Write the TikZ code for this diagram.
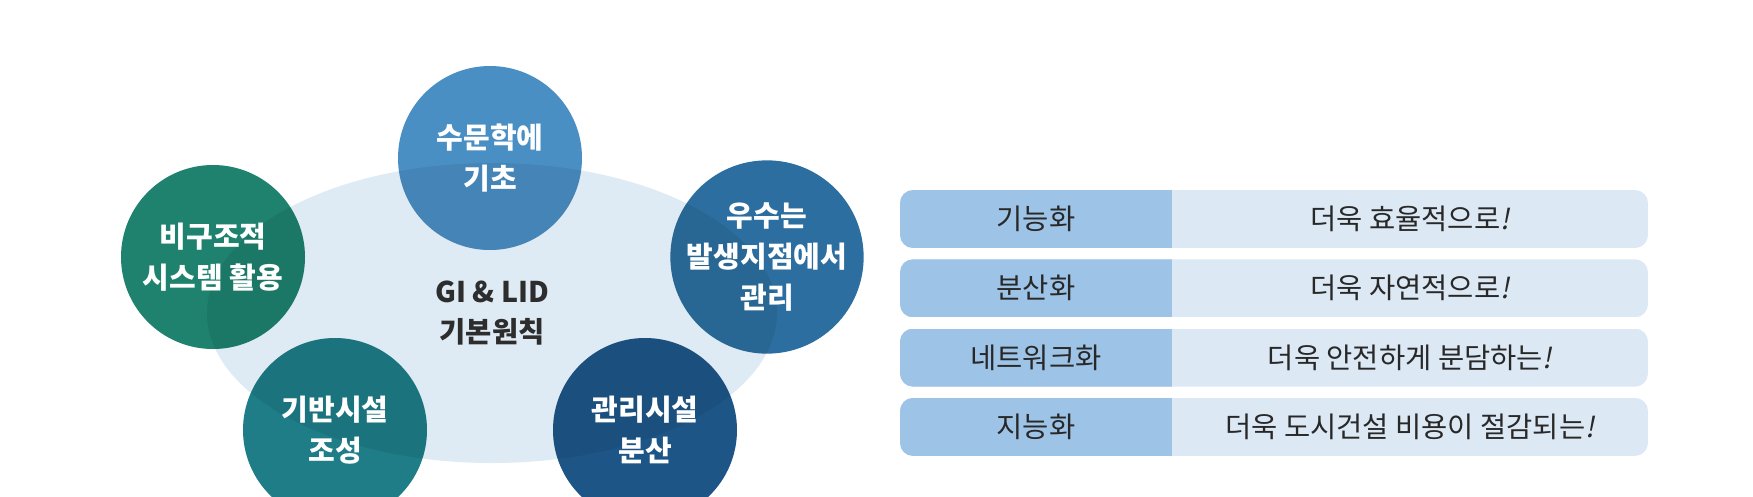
\documentclass[tikz,border=0pt]{standalone}
\usepackage{fontspec}
\setmainfont{Noto Sans CJK KR}
\newfontfamily\krslant[FakeSlant=0.2]{Noto Sans CJK KR}
\usepackage{tikz}
\usetikzlibrary{shapes.geometric}
\definecolor{corefill}{RGB}{222,234,244}
\definecolor{coretext}{RGB}{45,45,45}
\definecolor{topblue}{RGB}{74,143,196}
\definecolor{leftgreen}{RGB}{30,130,110}
\definecolor{rightblue}{RGB}{44,110,160}
\definecolor{lowteal}{RGB}{30,125,135}
\definecolor{lownavy}{RGB}{30,85,135}
\definecolor{keyfill}{RGB}{157,196,230}
\definecolor{valfill}{RGB}{220,233,244}
\definecolor{rowtext}{RGB}{40,40,40}

\begin{document}
\begin{tikzpicture}[x=1pt, y=-1pt,
  bubble/.style={circle, minimum size=184pt, inner sep=0pt, text=white, align=center,
    font=\fontsize{29}{41}\selectfont\bfseries,
    path picture={\fill[black, opacity=0.07] (core.center) ellipse [x radius=285pt, y radius=150pt];}},
  cell/.style={text=rowtext, font=\fontsize{28.5}{30}\selectfont, inner sep=0pt}]

  % --- Riquadro ---
  \path[use as bounding box] (0,0) rectangle (1753,496);
  \clip (0,0) rectangle (1753,496);

  % --- Ellisse di fondo ---
  \node[ellipse, fill=corefill, minimum width=570pt, minimum height=300pt, inner sep=0pt,
    align=center, text=coretext, font=\fontsize{28.5}{40}\selectfont\bfseries]
    (core) at (492,313) {GI \& LID\\기본원칙};

  % --- Cerchi ---
  \node[bubble, fill=topblue] (hydro) at (490,158) {수문학에\\기초};
  \node[bubble, fill=leftgreen] (nonstruct) at (213,257) {비구조적\\시스템 활용};
  \node[bubble, fill=rightblue] (source) at (767,257) {우수는\\발생지점에서\\관리};
  \node[bubble, fill=lowteal] (base) at (335,430) {기반시설\\조성};
  \node[bubble, fill=lownavy] (spread) at (645,430) {관리시설\\분산};

  % --- Tabella ---
  \foreach \key/\val [count=\i] in {기능화/더욱 효율적으로, 분산화/더욱 자연적으로,
      네트워크화/더욱 안전하게 분담하는, 지능화/더욱 도시건설 비용이 절감되는} {
    \pgfmathsetmacro{\rowy}{219+69.3*(\i-1)}
    \begin{scope}
      \clip[rounded corners=13pt] (900,\rowy-29) rectangle (1648,\rowy+29);
      \fill[valfill] (900,\rowy-29) rectangle (1648,\rowy+29);
      \fill[keyfill] (900,\rowy-29) rectangle (1172,\rowy+29);
    \end{scope}
    \node[cell] (key\i) at (1036,\rowy) {\key};
    \node[cell] (val\i) at (1410,\rowy) {\val{\krslant !}};
  }

\end{tikzpicture}
\end{document}
